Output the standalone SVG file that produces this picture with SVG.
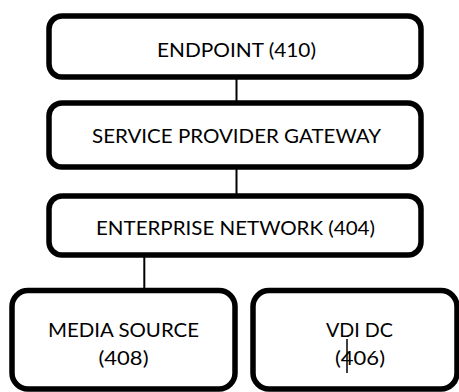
<svg xmlns="http://www.w3.org/2000/svg" width="459" height="392" viewBox="0 0 459 392">
<style>
.box{fill:#fff;stroke:#000;stroke-width:5.5}
.lbl{font-family:Lato,"Open Sans",sans-serif;font-size:20px;fill:#000;text-anchor:middle}
.conn{stroke:#000;stroke-width:2;fill:none}
</style>
<rect width="459" height="392" fill="#fff"/>
<g id="connectors">
<line class="conn" x1="236.5" y1="79" x2="236.5" y2="101"/>
<line class="conn" x1="236.5" y1="169" x2="236.5" y2="194"/>
<line class="conn" x1="144.3" y1="257" x2="144.3" y2="289"/>
</g>
<g id="endpoint">
<rect class="box" x="49" y="16" width="372" height="61" rx="13"/>
<text class="lbl" x="236.5" y="57" textLength="159" lengthAdjust="spacingAndGlyphs">ENDPOINT (410)</text>
</g>
<g id="gateway">
<rect class="box" x="49" y="103" width="372" height="64" rx="13"/>
<text class="lbl" x="236.5" y="143" textLength="289" lengthAdjust="spacingAndGlyphs">SERVICE PROVIDER GATEWAY</text>
</g>
<g id="enterprise">
<rect class="box" x="49" y="196" width="372" height="59" rx="13"/>
<text class="lbl" x="235.5" y="235" textLength="279" lengthAdjust="spacingAndGlyphs">ENTERPRISE NETWORK (404)</text>
</g>
<g id="media">
<rect class="box" x="12" y="290.5" width="223" height="98.5" rx="16"/>
<text class="lbl" x="123.5" y="337" textLength="151" lengthAdjust="spacingAndGlyphs">MEDIA SOURCE</text>
<text class="lbl" x="123.5" y="365" textLength="50" lengthAdjust="spacingAndGlyphs">(408)</text>
</g>
<g id="vdi">
<rect class="box" x="253" y="290.5" width="204" height="98.5" rx="16"/>
<text class="lbl" x="359.5" y="337" textLength="67" lengthAdjust="spacingAndGlyphs">VDI DC</text>
<text class="lbl" x="360" y="365" textLength="50" lengthAdjust="spacingAndGlyphs">(406)</text>
<line x1="347" y1="339" x2="347" y2="373" stroke="#000" stroke-width="1.5"/>
</g>
</svg>
